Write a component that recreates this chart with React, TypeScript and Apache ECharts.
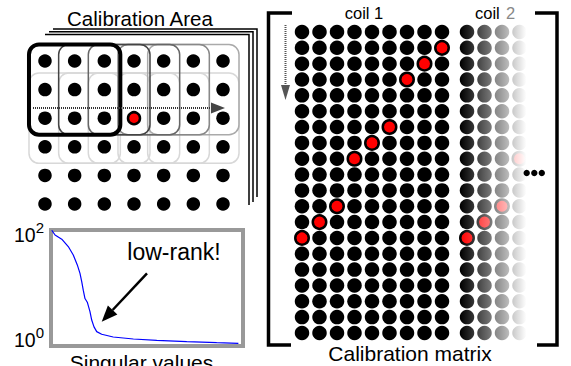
import React, { useEffect, useRef } from 'react';
import * as echarts from 'echarts';

// ---- data ----
const calibCols = [0, 1, 2, 3, 4, 5, 6];
const calibRows = [0, 1, 2, 3, 4, 5];
const calibHighlight = [[3, 2]];

const coil1Cols = [0, 1, 2, 3, 4, 5, 6, 7, 8];
const coil2Cols = [0, 1, 2, 3];
const matrixRows = [0, 1, 2, 3, 4, 5, 6, 7, 8, 9, 10, 11, 12, 13, 14, 15, 16, 17, 18, 19];
const coil1Highlight = [[8, 1], [7, 2], [6, 3], [5, 6], [4, 7], [3, 8], [2, 11], [1, 12], [0, 13]];
const coil2Highlight = [[0, 13], [1, 12], [2, 11], [3, 8]];

const svIndex = [0.4, 2.1, 5.6, 9.0, 11.6, 13.7, 15.1, 16.0, 16.8, 17.7, 18.9, 20.3, 21.2, 22.4, 23.8, 26.4, 32.4, 42.9, 55.1, 70.7, 86.3, 97.6];
const svLog10 = [2.09, 2.0, 1.92, 1.78, 1.62, 1.43, 1.27, 1.11, 0.95, 0.79, 0.72, 0.54, 0.38, 0.25, 0.16, 0.11, 0.057, 0.019, -0.006, -0.032, -0.051, -0.063];
const svTickExponents = [0, 2];

// ---- layout constants ----
const FONT = '"Liberation Sans", Arial, sans-serif';
const A = { left: 30.15, top: 46.7, colW: 29.67, rowH: 28.6 };
const B1 = { left: 293.25, top: 24.08, colW: 17.5, rowH: 15.84 };
const B2 = { left: 458.25 };

const isHi = (list: number[][], c: number, r: number) => list.some(([hc, hr]) => hc === c && hr === r);

function dots(cols: number[], rows: number[], hi: number[][]) {
  const out: number[][] = [];
  rows.forEach((r) => cols.forEach((c) => { if (!isHi(hi, c, r)) out.push([c, r]); }));
  return out;
}

function buildOption() {
  const cx = (i: number) => A.left + A.colW * (i + 0.5);
  const ry = (j: number) => A.top + A.rowH * (j + 0.5);
  const win = (i: number, j: number, stroke: string, lw: number) => ({
    type: 'rect',
    shape: { x: cx(i) - 16, y: ry(j) - 16.5, width: cx(i + 2) - cx(i) + 32, height: ry(j + 2) - ry(j) + 33, r: 10 },
    style: { fill: 'none', stroke, lineWidth: lw },
    z: 1,
  });
  const windows: any[] = [];
  const rowShiftColors = ['#d8d8d8', '#d8d8d8', '#d8d8d8', '#d8d8d8', '#d8d8d8'];
  [4, 3, 2, 1, 0].forEach((i) => windows.push(win(i, 1, rowShiftColors[i], 1.5)));
  const colColors = ['#000', '#444', '#666', '#888', '#aaa'];
  [4, 3, 2, 1].forEach((i) => windows.push(win(i, 0, colColors[i], 1.5)));
  windows.push(win(0, 0, '#000', 4));

  const text = (t: string, x: number, y: number, size: number, align = 'center', fill = '#000') => ({
    type: 'text', x, y, z: 120,
    style: { text: t, fill, font: `${size}px ${FONT}`, align, textAlign: align, verticalAlign: 'middle', textVerticalAlign: 'middle' },
  });

  // low-rank arrow geometry
  const tail = [147, 273.3];
  const tip = [101.7, 321.7];
  const dx = tip[0] - tail[0], dy = tip[1] - tail[1];
  const len = Math.hypot(dx, dy);
  const ux = dx / len, uy = dy / len;
  const base = [tip[0] - 16 * ux, tip[1] - 16 * uy];
  const nx = -uy, ny = ux;

  const graphic: any[] = [
    // stacked pages
    { type: 'polyline', shape: { points: [[53, 29], [257, 29], [257, 197]] }, style: { stroke: '#000', lineWidth: 1.5, fill: 'none' } },
    { type: 'polyline', shape: { points: [[49, 31.8], [253, 31.8], [253, 202]] }, style: { stroke: '#000', lineWidth: 1.5, fill: 'none' } },
    { type: 'polyline', shape: { points: [[45, 34.5], [249, 34.5], [249, 205]] }, style: { stroke: '#000', lineWidth: 1.5, fill: 'none' } },
    ...windows,
    // horizontal dotted arrow
    { type: 'line', z: 50, shape: { x1: 33, y1: 108, x2: 212, y2: 108 }, style: { stroke: '#333', lineWidth: 2, lineDash: [1, 1] } },
    { type: 'polygon', z: 50, shape: { points: [[211, 102.5], [225, 108], [211, 113.5]] }, style: { fill: '#444' } },
    // brackets
    { type: 'polyline', shape: { points: [[292, 13], [268.5, 13], [268.5, 345], [291, 345]] }, style: { stroke: '#000', lineWidth: 3.5, fill: 'none' } },
    { type: 'polyline', shape: { points: [[535, 13], [557, 13], [557, 345], [537, 345]] }, style: { stroke: '#000', lineWidth: 3.5, fill: 'none' } },
    // vertical dotted arrow
    { type: 'line', z: 50, shape: { x1: 285.5, y1: 25, x2: 285.5, y2: 86 }, style: { stroke: '#555', lineWidth: 2, lineDash: [1, 1] } },
    { type: 'polygon', z: 50, shape: { points: [[281, 85], [290, 85], [285.5, 100]] }, style: { fill: '#555' } },
    // fade overlay for coil 2
    {
      type: 'rect', z: 100,
      shape: { x: 458, y: 22, width: 72, height: 322 },
      style: {
        fill: new echarts.graphic.LinearGradient(0, 0, 1, 0, [
          { offset: 0, color: 'rgba(255,255,255,0)' },
          { offset: 0.03, color: 'rgba(255,255,255,0)' },
          { offset: 0.95, color: 'rgba(255,255,255,1)' },
          { offset: 1, color: 'rgba(255,255,255,1)' },
        ]),
      },
    },
    // ellipsis
    { type: 'circle', z: 110, shape: { cx: 526.7, cy: 173, r: 3.2 }, style: { fill: '#000' } },
    { type: 'circle', z: 110, shape: { cx: 534.3, cy: 173, r: 3.2 }, style: { fill: '#000' } },
    { type: 'circle', z: 110, shape: { cx: 541.8, cy: 173, r: 3.2 }, style: { fill: '#000' } },
    // low-rank arrow
    { type: 'line', z: 50, shape: { x1: tail[0], y1: tail[1], x2: base[0], y2: base[1] }, style: { stroke: '#000', lineWidth: 2.5 } },
    { type: 'polygon', z: 50, shape: { points: [[tip[0], tip[1]], [base[0] + 6.5 * nx, base[1] + 6.5 * ny], [base[0] - 6.5 * nx, base[1] - 6.5 * ny]] }, style: { fill: '#000' } },
    // texts
    text('Calibration Area', 140, 18.5, 20.5),
    text('coil 1', 364, 13, 16.5),
    text('coil', 475, 13, 16.5, 'left'),
    text('2', 506, 13, 16.5, 'left', '#888'),
    text('Calibration matrix', 410, 353, 21),
    text('low-rank!', 174, 252, 23),
    text('Singular values', 141.5, 362, 21),
  ];

  const blackDot = (xi: number, data: number[][], size: number) => ({
    type: 'scatter', xAxisIndex: xi, yAxisIndex: xi, data, symbol: 'circle', symbolSize: size,
    itemStyle: { color: '#000', opacity: 1 }, clip: false, silent: true,
  });
  const redDot = (xi: number, data: number[][], size: number) => ({
    type: 'scatter', xAxisIndex: xi, yAxisIndex: xi, data, symbol: 'circle', symbolSize: size, z: 3,
    itemStyle: { color: '#ff0000', borderColor: '#000', borderWidth: 2.5, opacity: 1 }, clip: false, silent: true,
  });

  const supLabel = (v: number) => {
    const e = svTickExponents.find((t) => Math.abs(v - t) < 1e-9);
    return e === undefined ? '' : `{b|10}{s|${e}}`;
  };

  return {
    animation: false,
    backgroundColor: '#fff',
    grid: [
      { left: A.left, top: A.top, width: A.colW * 7, height: A.rowH * 6 },
      { left: B1.left, top: B1.top, width: B1.colW * 9, height: B1.rowH * 20 },
      { left: B2.left, top: B1.top, width: B1.colW * 4, height: B1.rowH * 20 },
      { left: 51, top: 230, width: 192, height: 116, show: true, borderColor: '#999', borderWidth: 4, backgroundColor: 'transparent' },
    ],
    xAxis: [
      { gridIndex: 0, type: 'value', min: -0.5, max: 6.5, show: false },
      { gridIndex: 1, type: 'value', min: -0.5, max: 8.5, show: false },
      { gridIndex: 2, type: 'value', min: -0.5, max: 3.5, show: false },
      { gridIndex: 3, type: 'value', min: 0, max: 100, show: false },
    ],
    yAxis: [
      { gridIndex: 0, type: 'value', inverse: true, min: -0.5, max: 5.5, show: false },
      { gridIndex: 1, type: 'value', inverse: true, min: -0.5, max: 19.5, show: false },
      { gridIndex: 2, type: 'value', inverse: true, min: -0.5, max: 19.5, show: false },
      {
        gridIndex: 3, type: 'value', min: -0.114, max: 2.095,
        axisLine: { show: false }, axisTick: { show: false }, splitLine: { show: false },
        axisLabel: {
          margin: 7, formatter: supLabel,
          rich: {
            b: { fontSize: 19.5, lineHeight: 30, fontFamily: FONT, color: '#000' },
            s: { fontSize: 15, lineHeight: 15, verticalAlign: 'top', fontFamily: FONT, color: '#000' },
          },
        },
      },
    ],
    series: [
      blackDot(0, dots(calibCols, calibRows, calibHighlight), 13.5),
      redDot(0, calibHighlight, 12),
      blackDot(1, dots(coil1Cols, matrixRows, coil1Highlight), 14.5),
      redDot(1, coil1Highlight, 13.5),
      blackDot(2, dots(coil2Cols, matrixRows, coil2Highlight), 14.5),
      redDot(2, coil2Highlight, 13.5),
      {
        type: 'line', xAxisIndex: 3, yAxisIndex: 3, showSymbol: false, silent: true,
        data: svIndex.map((x, i) => [x, svLog10[i]]),
        lineStyle: { color: '#0000ff', width: 1.2 },
      },
    ],
    graphic,
  };
}

export default function App() {
  const ref = useRef<HTMLDivElement>(null);
  useEffect(() => {
    document.body.style.margin = '0';
    const chart = echarts.init(ref.current!, null, { renderer: 'svg' });
    chart.setOption(buildOption() as any);
    return () => chart.dispose();
  }, []);
  return <div ref={ref} style={{ width: 571, height: 366, position: 'absolute', left: 0, top: 0 }} />;
}
